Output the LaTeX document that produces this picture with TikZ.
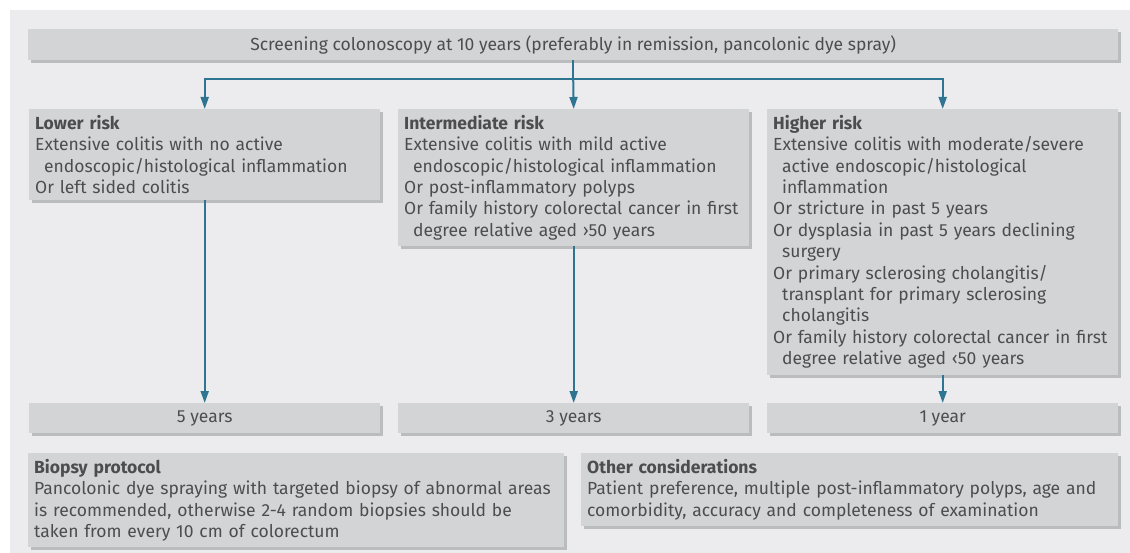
\documentclass[tikz,border=0pt]{standalone}
\usepackage{fontspec}
\setmainfont{Fira Sans}
\usetikzlibrary{arrows.meta,shadows}

\definecolor{panelgrey}{HTML}{ECECEE}
\definecolor{boxgrey}{HTML}{D3D4D6}
\definecolor{shadowgrey}{HTML}{BBBCBE}
\definecolor{textgrey}{HTML}{4D4D4F}
\definecolor{linkblue}{HTML}{2F7592}

\tikzset{
  box/.style={fill=boxgrey, anchor=north west, text=textgrey,
    general shadow={fill=shadowgrey, shadow xshift=3pt, shadow yshift=-3pt},
    font=\fontsize{17.5}{21.4}\selectfont},
  riskbox/.style={box, align=left, text width=339pt, inner xsep=6pt, inner ysep=6pt},
  notebox/.style={box, align=left, text width=524pt, inner xsep=6pt, inner ysep=6pt},
  yearbox/.style={box, minimum width=351pt, minimum height=30pt, inner sep=0pt},
  flow/.style={draw=linkblue, line width=2pt, -{Triangle[length=12pt,width=8pt]}},
}
\newcommand{\ind}{\hspace*{9pt}}

\begin{document}
\begin{tikzpicture}[x=1pt,y=-1pt]
  \useasboundingbox (0,0) rectangle (1130,553);
  \fill[panelgrey] (10,10) rectangle (1130,553);

  \node[box, minimum width=1090pt, minimum height=31pt, inner sep=0pt] (screen) at (28,29)
    {Screening colonoscopy at 10 years (preferably in remission, pancolonic dye spray)};

  \node[riskbox] (lower) at (29,109)
    {\textbf{Lower risk}\\
     Extensive colitis with no active\\
     \ind endoscopic/histological inflammation\\
     Or left sided colitis};
  \node[riskbox] (inter) at (398,109)
    {\textbf{Intermediate risk}\\
     Extensive colitis with mild active\\
     \ind endoscopic/histological inflammation\\
     Or post-inflammatory polyps\\
     Or family history colorectal cancer in first\\
     \ind degree relative aged ›50 years};
  \node[riskbox] (higher) at (767,109)
    {\textbf{Higher risk}\\
     Extensive colitis with moderate/severe\\
     \ind active endoscopic/histological\\
     \ind inflammation\\
     Or stricture in past 5 years\\
     Or dysplasia in past 5 years declining\\
     \ind surgery\\
     Or primary sclerosing cholangitis/\\
     \ind transplant for primary sclerosing\\
     \ind cholangitis\\
     Or family history colorectal cancer in first\\
     \ind degree relative aged ‹50 years};

  \node[yearbox] (five) at (29,403) {5 years};
  \node[yearbox] (three) at (398,403) {3 years};
  \node[yearbox] (one) at (767,403) {1 year};

  \node[notebox, text width=524pt] (biopsy) at (28,453)
    {\textbf{Biopsy protocol}\\
     Pancolonic dye spraying with targeted biopsy of abnormal areas\\
     is recommended, otherwise 2-4 random biopsies should be\\
     taken from every 10 cm of colorectum};
  \node[notebox, text width=525pt] (other) at (581,453)
    {\textbf{Other considerations}\\
     Patient preference, multiple post-inflammatory polyps, age and\\
     comorbidity, accuracy and completeness of examination};

  % split under the screening box
  \coordinate (split) at (screen.south |- 0,79);
  \draw[line width=2pt, linkblue] (screen.south) -- (split);
  \draw[flow] (split) -| (lower.north);
  \draw[flow] (split) -- (inter.north);
  \draw[flow] (split) -| (higher.north);

  \draw[flow] (lower.south) -- (five.north);
  \draw[flow] (inter.south) -- (three.north);
  \draw[flow] (higher.south) -- (one.north);
\end{tikzpicture}
\end{document}
